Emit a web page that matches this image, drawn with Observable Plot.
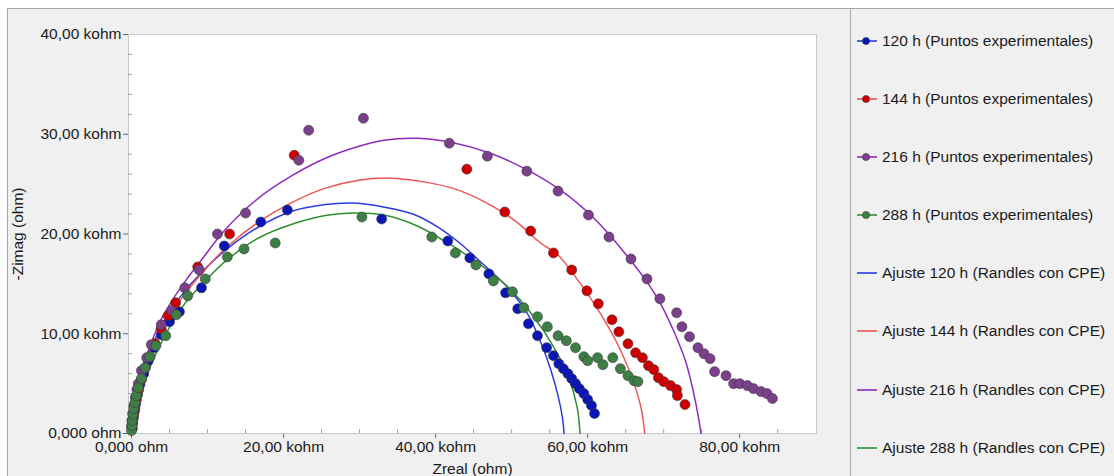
<!DOCTYPE html>
<html>
<head>
<meta charset="utf-8">
<script src="https://cdn.jsdelivr.net/npm/d3@7"></script>
<script src="https://cdn.jsdelivr.net/npm/@observablehq/plot@0.6"></script>
<style>
  body { margin: 0; background: #fff; }
  #root { position: relative; width: 1114px; height: 476px; overflow: hidden; font-family: "Liberation Sans", Arial, sans-serif; }
  #panel { position: absolute; left: 7px; top: 8px; right: 0; bottom: 0; background: #f0f0f0; border-top: 1px solid #a8a8a8; border-left: 1px solid #a8a8a8; }
  #sep { position: absolute; left: 850px; top: 9px; bottom: 0; width: 1px; background: #a8a8a8; }
  #chart { position: absolute; left: 0; top: 0; }
  #legend { position: absolute; left: 851px; top: 0; width: 263px; height: 476px; }
  .item { position: absolute; left: 0; height: 20px; display: flex; align-items: center; white-space: nowrap; font-size: 15.5px; color: #1a1a1a; }
  .item svg { margin-left: 4px; margin-right: 5px; }
</style>
</head>
<body>
<div id="root">
  <div id="panel"></div>
  <div id="sep"></div>
  <div id="chart"></div>
  <div id="legend"></div>
</div>
<script>
// ---- Series names ----
const seriesHours = ["120 h", "144 h", "216 h", "288 h"];
const pointLabels = ["120 h (Puntos experimentales)", "144 h (Puntos experimentales)", "216 h (Puntos experimentales)", "288 h (Puntos experimentales)"];
const fitLabels = ["Ajuste 120 h (Randles con CPE)", "Ajuste 144 h (Randles con CPE)", "Ajuste 216 h (Randles con CPE)", "Ajuste 288 h (Randles con CPE)"];

// ---- Experimental points (kohm) ----
const zreal120 = [0.1,0.15,0.25,0.4,0.55,0.8,1.1,1.6,2.2,3.0,3.9,5.0,6.3,9.2,12.2,17.0,20.5,32.9,41.6,44.5,47.0,49.2,50.8,52.2,53.4,54.6,55.5,56.2,56.8,57.4,57.9,58.4,58.9,59.5,60.0,60.5,60.9];
const zimag120 = [0.5,1.0,1.6,2.3,3.0,3.9,4.9,6.0,7.3,8.6,9.9,11.2,12.2,14.6,18.8,21.2,22.4,21.5,19.3,17.6,16.0,14.1,12.5,11.0,9.8,8.6,7.8,7.0,6.5,6.0,5.5,5.0,4.5,4.0,3.4,2.8,2.0];

const zreal144 = [0.05,0.15,0.3,0.45,0.65,0.95,1.3,1.8,2.4,3.1,3.9,4.8,5.8,8.7,12.9,21.4,44.1,49.1,52.5,55.5,57.9,59.9,61.4,63.2,64.1,65.3,66.3,67.2,68.0,68.7,69.3,70.0,70.9,71.7,71.8,72.8];
const zimag144 = [0.6,1.2,1.9,2.6,3.4,4.4,5.4,6.6,7.7,9.0,10.5,11.8,13.1,16.7,20.0,27.9,26.5,22.2,20.3,18.1,16.4,14.3,13.0,11.4,10.2,9.0,8.1,7.6,6.8,6.4,5.6,5.2,4.8,4.4,3.8,2.9];

const zreal216 = [0.0,0.05,0.15,0.3,0.5,0.7,0.9,1.3,2.0,2.6,3.9,5.3,7.0,8.9,11.3,15.0,22.0,23.3,30.5,41.8,46.8,52.0,56.1,60.1,62.8,65.7,67.8,69.5,71.7,72.4,73.4,74.5,75.3,76.1,76.7,78.2,79.2,80.0,81.0,81.8,82.8,83.6,84.3];
const zimag216 = [0.7,1.3,2.0,2.8,3.6,4.4,5.0,6.3,7.6,8.9,10.9,12.3,14.6,16.4,20.0,22.1,27.4,30.4,31.6,29.1,27.8,26.3,24.3,21.9,19.7,17.5,15.5,13.5,12.1,10.7,9.7,8.6,8.0,7.5,6.2,5.8,5.0,5.0,4.8,4.5,4.2,4.0,3.5];

const zreal288 = [0.0,0.05,0.1,0.2,0.3,0.45,0.65,0.9,1.3,1.8,2.4,3.2,4.5,5.9,7.4,9.7,12.6,14.8,18.9,30.3,39.5,42.6,45.3,47.6,50.1,51.6,53.4,54.7,56.1,57.2,58.4,59.5,60.0,61.3,62.0,63.3,64.3,65.3,66.1,66.6];
const zimag288 = [0.3,0.8,1.3,1.9,2.5,3.1,3.8,4.6,5.5,6.6,7.7,8.8,9.8,11.9,13.8,15.5,17.7,18.5,19.1,21.7,19.7,18.1,16.9,15.3,14.2,12.6,11.7,10.7,9.8,9.3,8.6,7.7,7.3,7.6,6.9,7.6,6.5,5.8,5.3,5.2];

// ---- Fit curves (kohm) ----
const fitReal120 = [0,0.1,0.6,1.5,2.7,4.3,6.3,9.0,12.4,16.7,21.2,25.5,29.1,32.5,37.0,40.5,43.0,45.5,49.5,52.1,53.8,55.1,56.1,56.7,56.9];
const fitImag120 = [0.3,1.3,3.8,6.3,8.8,11.3,13.6,16.0,18.4,20.7,22.3,22.95,23.1,22.8,22.0,20.6,19.2,17.5,14.6,12.0,9.2,6.5,3.8,1.5,0];

const fitReal144 = [0,0.1,0.8,1.8,3.1,4.8,7.0,10.0,12.4,16.7,21.2,25.5,29.9,34.3,38.7,42.6,46.5,50.5,53.8,56.1,58.2,61.7,64.3,66.1,67.1,67.5];
const fitImag144 = [0.3,1.2,3.9,6.5,9.0,11.5,14.0,16.7,18.6,21.2,23.2,24.6,25.4,25.6,25.2,24.5,23.2,21.3,19.1,17.9,15.9,12.0,8.4,5.0,2.3,0];

const fitReal216 = [0,0.1,0.5,1.4,2.5,3.8,5.4,7.1,9.1,12.4,16.7,21.2,25.5,29.5,33.2,37.6,42.0,47.2,52.1,56.8,60.4,63.0,65.7,67.8,69.6,71.3,72.9,73.9,74.6,74.9];
const fitImag216 = [0.3,1.3,3.8,6.5,8.9,11.3,13.4,15.3,17.3,20.5,23.6,25.9,27.6,28.7,29.4,29.6,29.2,28.1,26.4,24.2,21.9,19.8,17.3,15.2,13.0,10.3,7.2,4.2,1.5,0];

const fitReal288 = [0,0.2,0.9,2.0,3.4,5.1,7.2,9.7,12.4,16.7,21.2,25.5,29.1,33.2,37.6,42.0,45.0,49.5,52.9,55.5,57.5,58.6,59.0];
const fitImag288 = [0.2,0.9,3.3,5.8,8.3,10.8,13.2,15.3,17.3,19.6,21.0,21.85,22.1,21.9,20.8,18.9,17.4,14.7,11.7,8.7,5.6,2.7,0];

// ---- Axis ticks ----
const xTicks = [0, 20, 40, 60, 80];
const xTickLabels = ["0,000 ohm", "20,00 kohm", "40,00 kohm", "60,00 kohm", "80,00 kohm"];
const xMinorTicks = [5,10,15,25,30,35,45,50,55,65,70,75,85];
const yTicks = [0, 10, 20, 30, 40];
const yTickLabels = ["0,000 ohm", "10,00 kohm", "20,00 kohm", "30,00 kohm", "40,00 kohm"];
const yMinorTicks = [2,4,6,8,12,14,16,18,22,24,26,28,32,34,36,38];

// ---- Colours ----
const dotColors = ["#0b16b8", "#d00000", "#7b3f8c", "#3d7f45"];
const lineColors = ["#2a3be0", "#f05555", "#8e2bbd", "#2f9030"];

const pointSets = [[zreal120, zimag120], [zreal144, zimag144], [zreal216, zimag216], [zreal288, zimag288]];
const fitSets = [[fitReal120, fitImag120], [fitReal144, fitImag144], [fitReal216, fitImag216], [fitReal288, fitImag288]];
const toRows = ([xs, ys]) => xs.map((x, i) => ({x, y: ys[i]}));

const marks = [
  Plot.frame({fill: "white", stroke: "#c8c8c8"}),
  Plot.axisX({ticks: xMinorTicks, tickSize: -4, stroke: "#a0a0a0", tickFormat: () => "", label: null}),
  Plot.axisY({ticks: yMinorTicks, tickSize: -4, stroke: "#a0a0a0", tickFormat: () => "", label: null}),
  Plot.axisX({ticks: xTicks, tickSize: 5, tickPadding: 2, stroke: "#666", fill: "#1a1a1a",
    tickFormat: d => xTickLabels[xTicks.indexOf(d)],
    label: "Zreal (ohm)", labelAnchor: "center", labelArrow: "none", labelOffset: 40}),
  Plot.axisY({ticks: yTicks, tickSize: 5, tickPadding: 2, stroke: "#666", fill: "#1a1a1a",
    tickFormat: d => yTickLabels[yTicks.indexOf(d)],
    label: "-Zimag (ohm)", labelAnchor: "center", labelArrow: "none", labelOffset: 117}),
  Plot.ruleY([0], {stroke: "#c8c8c8"})
];
fitSets.forEach((s, i) => {
  marks.push(Plot.line(toRows(s), {x: "x", y: "y", stroke: lineColors[i], strokeWidth: 1.5, curve: "catmull-rom"}));
});
pointSets.forEach((s, i) => {
  marks.push(Plot.dot(toRows(s), {x: "x", y: "y", r: 5, fill: dotColors[i], stroke: "#3a3a3a", strokeWidth: 0.6}));
});

const chart = Plot.plot({
  width: 850,
  height: 476,
  marginLeft: 128,
  marginRight: 34,
  marginTop: 34,
  marginBottom: 43,
  style: {background: "transparent", fontFamily: '"Liberation Sans", Arial, sans-serif', fontSize: "15.5px", color: "#1a1a1a", overflow: "visible"},
  x: {domain: [-0.4, 90.1]},
  y: {domain: [0, 40]},
  marks
});
document.getElementById("chart").appendChild(chart);

// ---- Legend ----
const legend = document.getElementById("legend");
const legendCenters = [41, 99, 157, 215, 273, 331, 390, 448];
const items = [];
pointLabels.forEach((t, i) => items.push({t, type: "dot", color: dotColors[i], line: lineColors[i]}));
fitLabels.forEach((t, i) => items.push({t, type: "line", color: lineColors[i]}));
items.forEach((it, k) => {
  const div = document.createElement("div");
  div.className = "item";
  div.style.top = (legendCenters[k] - 10) + "px";
  const ns = "http://www.w3.org/2000/svg";
  const svg = document.createElementNS(ns, "svg");
  svg.setAttribute("width", 22); svg.setAttribute("height", 20);
  const ln = document.createElementNS(ns, "line");
  ln.setAttribute("x1", 2); ln.setAttribute("x2", 22); ln.setAttribute("y1", 10); ln.setAttribute("y2", 10);
  ln.setAttribute("stroke", it.type === "dot" ? it.line : it.color);
  ln.setAttribute("stroke-width", 1.6);
  svg.appendChild(ln);
  if (it.type === "dot") {
    const c = document.createElementNS(ns, "circle");
    c.setAttribute("cx", 11); c.setAttribute("cy", 10); c.setAttribute("r", 3.6);
    c.setAttribute("fill", it.color); c.setAttribute("stroke", "#3a3a3a"); c.setAttribute("stroke-width", 0.6);
    svg.appendChild(c);
  }
  div.appendChild(svg);
  const span = document.createElement("span");
  span.textContent = it.t;
  div.appendChild(span);
  legend.appendChild(div);
});
</script>
</body>
</html>
